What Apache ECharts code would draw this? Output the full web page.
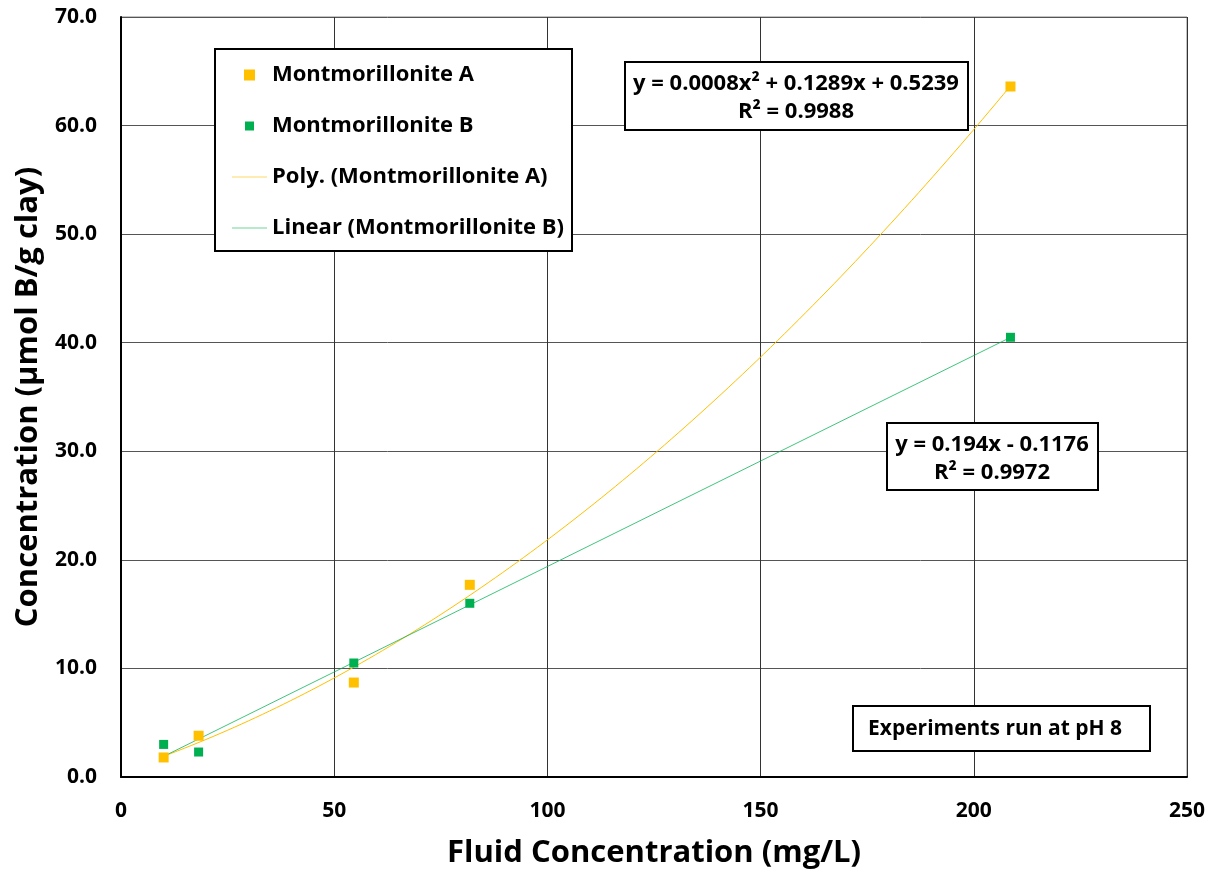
<!DOCTYPE html>
<html>
<head>
<meta charset="utf-8">
<script src="https://cdn.jsdelivr.net/npm/echarts@6/dist/echarts.min.js"></script>
<style>
  html, body { margin: 0; padding: 0; background: #fff; }
  #chart { width: 1220px; height: 875px; }
</style>
</head>
<body>
<div id="chart"></div>
<script>
// Measured sorption data (fluid concentration mg/L vs. µmol B / g clay)
const fluidConc = [10.0, 18.2, 54.6, 81.8, 208.6];
const montA = [1.8, 3.8, 8.7, 17.7, 63.6];
const montB = [3.0, 2.3, 10.5, 16.0, 40.5];

// Fit labels shown on the chart
const fitLabelA = ['y = 0.0008x² + 0.1289x + 0.5239', 'R² = 0.9988'];
const fitLabelB = ['y = 0.194x - 0.1176', 'R² = 0.9972'];
const noteText = 'Experiments run at pH 8';

const xTicks = { min: 0, max: 250, interval: 50 };
const yTicks = { min: 0, max: 70, interval: 10 };

const FONT = '"Open Sans", Lato, sans-serif';
const COL_A = '#FFC000';
const COL_B = '#00B050';

function pairs(xs, ys) { return xs.map((x, i) => [x, ys[i]]); }

// Least-squares polynomial fit (normal equations, Gaussian elimination)
function polyFit(xs, ys, deg) {
  const n = deg + 1;
  const M = [];
  for (let r = 0; r < n; r++) {
    const row = [];
    for (let c = 0; c < n; c++) row.push(xs.reduce((s, x) => s + Math.pow(x, r + c), 0));
    row.push(xs.reduce((s, x, i) => s + Math.pow(x, r) * ys[i], 0));
    M.push(row);
  }
  for (let p = 0; p < n; p++) {
    let best = p;
    for (let r = p + 1; r < n; r++) if (Math.abs(M[r][p]) > Math.abs(M[best][p])) best = r;
    [M[p], M[best]] = [M[best], M[p]];
    for (let r = 0; r < n; r++) {
      if (r === p) continue;
      const f = M[r][p] / M[p][p];
      for (let c = p; c <= n; c++) M[r][c] -= f * M[p][c];
    }
  }
  return M.map((row, i) => row[n] / row[i]);
}
function evalPoly(coef, x) { return coef.reduce((s, c, k) => s + c * Math.pow(x, k), 0); }

const coefA = polyFit(fluidConc, montA, 2);
const coefB = polyFit(fluidConc, montB, 1);
const xLo = Math.min(...fluidConc), xHi = Math.max(...fluidConc);
const trendA = [], trendB = [];
for (let k = 0; k <= 120; k++) {
  const x = xLo + (xHi - xLo) * k / 120;
  trendA.push([x, evalPoly(coefA, x)]);
}
[xLo, xHi].forEach(x => trendB.push([x, evalPoly(coefB, x)]));

const chart = echarts.init(document.getElementById('chart'), null, { renderer: 'canvas' });

function box(x, y, w, h) {
  return { type: 'rect', shape: { x: x, y: y, width: w, height: h },
           style: { fill: '#fff', stroke: '#000', lineWidth: 2 }, z: 10 };
}
function txt(x, y, s, size, align) {
  return { type: 'text', x: x, y: y, z: 11,
           style: { text: s, fill: '#000', font: 'bold ' + size + 'px ' + FONT,
                    align: align || 'center', verticalAlign: 'middle' } };
}

// Legend icons: padded squares for markers, thin bars for trendlines
const ICON_A = 'path://M0,0L0,0M35,11L35,11M12,0h11v11h-11z';
const ICON_B = 'path://M0,0L0,0M35,11L35,11M13,1h9v9h-9z';
const ICON_LINE = 'path://M0,0L0,0M35,11L35,11M0,5h35v1h-35z';

chart.setOption({
  animation: false,
  backgroundColor: '#fff',
  grid: { left: 121, right: 33, top: 17, bottom: 98, show: true,
          borderColor: '#888', borderWidth: 1 },
  xAxis: {
    type: 'value', min: xTicks.min, max: xTicks.max, interval: xTicks.interval,
    name: 'Fluid Concentration (mg/L)', nameLocation: 'middle', nameGap: 61,
    nameTextStyle: { fontFamily: FONT, fontWeight: 'bold', fontSize: 31, color: '#000' },
    axisLine: { lineStyle: { color: '#000', width: 2 } },
    axisTick: { show: false },
    axisLabel: { margin: 24, fontFamily: FONT, fontWeight: 'bold', fontSize: 21, color: '#000' },
    splitLine: { lineStyle: { color: '#333', width: 1 } }
  },
  yAxis: {
    type: 'value', min: yTicks.min, max: yTicks.max, interval: yTicks.interval,
    name: 'Concentration (µmol B/g clay)', nameLocation: 'middle', nameGap: 74,
    nameTextStyle: { fontFamily: FONT, fontWeight: 'bold', fontSize: 31, color: '#000' },
    axisLine: { show: true, lineStyle: { color: '#000', width: 2 } },
    axisTick: { show: false },
    axisLabel: { margin: 24, fontFamily: FONT, fontWeight: 'bold', fontSize: 21, color: '#000',
                 formatter: v => v.toFixed(1) },
    splitLine: { lineStyle: { color: '#555', width: 1 } }
  },
  legend: {
    orient: 'vertical', left: 232, top: 63, padding: 0,
    itemWidth: 35, itemHeight: 11, itemGap: 27,
    textStyle: { fontFamily: FONT, fontWeight: 'bold', fontSize: 22, color: '#000', lineHeight: 24 },
    data: [
      { name: 'Montmorillonite A', icon: ICON_A },
      { name: 'Montmorillonite B', icon: ICON_B },
      { name: 'Poly. (Montmorillonite A)', icon: ICON_LINE, itemStyle: { color: '#FFD966' } },
      { name: 'Linear (Montmorillonite B)', icon: ICON_LINE, itemStyle: { color: '#70D49A' } }
    ],
    z: 12
  },
  graphic: [
    box(215, 49, 357, 202),
    box(625, 62, 343, 68),
    txt(796, 84, fitLabelA[0], 22), txt(796, 112, fitLabelA[1], 22),
    box(887, 423, 211, 67),
    txt(992, 445, fitLabelB[0], 22), txt(992, 473, fitLabelB[1], 22),
    box(853, 706, 297, 45),
    txt(868, 729, noteText, 21, 'left')
  ],
  series: [
    { name: 'Poly. (Montmorillonite A)', type: 'line', data: trendA, showSymbol: false,
      symbol: 'none', lineStyle: { color: COL_A, width: 1 },
      itemStyle: { color: COL_A }, z: 3 },
    { name: 'Linear (Montmorillonite B)', type: 'line', data: trendB, showSymbol: false,
      symbol: 'none', lineStyle: { color: COL_B, width: 1, opacity: 0.75 },
      itemStyle: { color: COL_B }, z: 3 },
    { name: 'Montmorillonite A', type: 'scatter', data: pairs(fluidConc, montA),
      symbol: 'rect', symbolSize: 10, itemStyle: { color: COL_A, opacity: 1 }, z: 4 },
    { name: 'Montmorillonite B', type: 'scatter', data: pairs(fluidConc, montB),
      symbol: 'rect', symbolSize: 9, itemStyle: { color: COL_B, opacity: 1 }, z: 5 }
  ]
});
</script>
</body>
</html>
